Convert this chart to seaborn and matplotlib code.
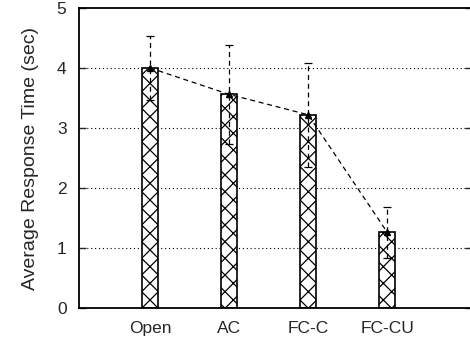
import matplotlib
matplotlib.use("Agg")
import matplotlib.pyplot as plt
import seaborn as sns
import numpy as np
import pandas as pd

categories = ["Open", "AC", "FC-C", "FC-CU"]
mean_time = [4.0, 3.56, 3.22, 1.26]
err_time = [0.54, 0.83, 0.87, 0.43]
y_ticks = [0, 1, 2, 3, 4, 5]

sns.set_theme(style="white")
plt.rcParams['font.family'] = ['Liberation Sans', 'DejaVu Sans']
plt.rcParams['hatch.linewidth'] = 0.9

fig = plt.figure(figsize=(4.7, 3.43), dpi=100)
ax = fig.add_axes([79/470, 1 - 308/343, 1 - 79/470 + 0.004, 300/343])

df = pd.DataFrame({"cat": categories, "val": mean_time})
sns.barplot(data=df, x="cat", y="val", ax=ax, width=0.2, color="white",
            edgecolor="black", linewidth=1.2, hatch="xx", saturation=1)
for p in ax.patches:
    p.set_facecolor("white")
    p.set_hatch("xx")

pos = np.arange(len(categories))
eb = ax.errorbar(pos, mean_time, yerr=err_time, fmt="none", ecolor="black",
                 elinewidth=0.9, capsize=3, capthick=0.9, zorder=4)
for c in eb[2]:
    c.set_linestyle((0, (4, 3)))
ax.plot(pos, mean_time, color="black", linestyle=(0, (4, 3)), linewidth=0.9,
        marker="^", markersize=5, zorder=5)

ax.set_xlim(-0.9, 4.07)
ax.set_ylim(0, 5)
ax.set_yticks(y_ticks)
ax.set_xlabel("")
ax.set_ylabel("Average Response Time (sec)", fontsize=14, labelpad=13)
for y in y_ticks[1:-1]:
    ax.axhline(y, color="black", linestyle=(0, (1, 2.5)), linewidth=0.8, zorder=0)

ax.tick_params(axis="y", which="major", direction="in", length=5, width=1,
               left=True, right=True, labelsize=12.5, pad=9)
ax.tick_params(axis="x", which="major", length=0, labelsize=12.5, pad=9.5)
for s in ax.spines.values():
    s.set_color("black")
    s.set_linewidth(1.3)

fig.savefig("out.png", dpi=100)
